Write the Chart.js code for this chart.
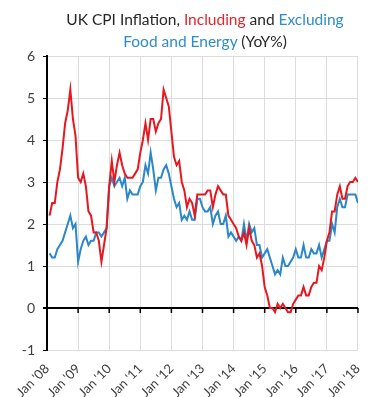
<!DOCTYPE html>
<html lang="en">
  <head>
    <meta charset="UTF-8" />
    <title>UK CPI Inflation</title>
    <script src="https://cdn.jsdelivr.net/npm/chart.js"></script>
    <style>
      body {
        margin: 0;
        background: #ffffff;
      }
      .wrap {
        position: relative;
        width: 380px;
        height: 397px;
      }
      .title {
        position: absolute;
        top: 8px;
        left: 30px;
        width: 350px;
        text-align: center;
        font-family: "Lato", sans-serif;
        font-size: 15.5px;
        line-height: 22px;
        color: #262626;
      }
      .red {
        color: #e3262b;
      }
      .blue {
        color: #2f8ccb;
      }
    </style>
  </head>
  <body>
    <div class="wrap">
      <canvas id="cpiChart" width="380" height="397"></canvas>
      <div class="title">
        UK CPI Inflation, <span class="red">Including</span> and <span class="blue">Excluding</span><br />
        <span class="blue">Food and Energy</span> (YoY%)
      </div>
    </div>
    <script>
      // monthly, Jan 2008 - Dec 2017
      const tickLabels = ["Jan '08", "Jan '09", "Jan '10", "Jan '11", "Jan '12", "Jan '13", "Jan '14", "Jan '15", "Jan '16", "Jan '17", "Jan '18"];

      const cpiAll = [
        2.2, 2.5, 2.5, 3.0, 3.3, 3.8, 4.4, 4.7, 5.2, 4.5, 4.1, 3.1,
        3.0, 3.2, 2.9, 2.3, 2.2, 1.8, 1.8, 1.6, 1.1, 1.5, 1.9, 2.9,
        3.5, 3.0, 3.4, 3.7, 3.4, 3.2, 3.1, 3.1, 3.1, 3.2, 3.3, 3.7,
        4.0, 4.4, 4.0, 4.5, 4.5, 4.2, 4.4, 4.5, 5.2, 5.0, 4.8, 4.2,
        3.6, 3.4, 3.5, 3.0, 2.8, 2.4, 2.6, 2.5, 2.2, 2.7, 2.7, 2.7,
        2.7, 2.8, 2.8, 2.4, 2.7, 2.9, 2.8, 2.7, 2.7, 2.2, 2.1, 2.0,
        1.9, 1.7, 1.6, 1.8, 1.5, 1.9, 1.6, 1.5, 1.2, 1.3, 1.0, 0.5,
        0.3, 0.0, 0.0, -0.1, 0.1, 0.0, 0.1, 0.0, -0.1, -0.1, 0.1, 0.2,
        0.3, 0.3, 0.5, 0.3, 0.3, 0.5, 0.6, 0.6, 1.0, 0.9, 1.2, 1.6,
        1.8, 2.3, 2.3, 2.7, 2.9, 2.6, 2.6, 2.9, 3.0, 3.0, 3.1, 3.0
      ];

      const cpiCore = [
        1.3, 1.2, 1.2, 1.4, 1.5, 1.6, 1.8, 2.0, 2.2, 1.9, 2.0, 1.1,
        1.4, 1.6, 1.7, 1.5, 1.6, 1.6, 1.8, 1.8, 1.7, 1.8, 1.9, 2.9,
        3.1, 2.9, 3.0, 3.1, 2.9, 3.1, 2.6, 2.8, 2.7, 2.7, 2.7, 2.9,
        3.0, 3.4, 3.2, 3.7, 3.3, 2.8, 3.1, 3.1, 3.3, 3.4, 3.2, 2.9,
        2.6, 2.4, 2.5, 2.1, 2.2, 2.1, 2.3, 2.1, 2.1, 2.6, 2.6, 2.4,
        2.3, 2.3, 2.4, 2.0, 2.2, 2.3, 2.0, 2.0, 2.2, 1.7, 1.8, 1.7,
        1.6, 1.7, 1.6, 2.0, 1.6, 2.0, 1.8, 1.9, 1.5, 1.5, 1.2, 1.3,
        1.4, 1.2, 1.0, 0.8, 0.9, 0.8, 1.2, 1.0, 1.0, 1.1, 1.2, 1.4,
        1.2, 1.2, 1.5, 1.2, 1.2, 1.4, 1.3, 1.3, 1.5, 1.2, 1.4, 1.6,
        1.6, 2.0, 1.8, 2.4, 2.6, 2.4, 2.4, 2.7, 2.7, 2.7, 2.7, 2.5
      ];

      // each value sits at the end of its month (months since Jan '08)
      function toPoints(values) {
        return values.map((v, i) => ({ x: i + 1, y: v }));
      }

      // little tick marks hanging under the zero line
      const zeroTicks = {
        id: "zeroTicks",
        beforeDatasetsDraw(chart) {
          const { ctx, scales } = chart;
          const y0 = scales.y.getPixelForValue(0);
          ctx.save();
          ctx.strokeStyle = "#000";
          ctx.lineWidth = 1.5;
          tickLabels.forEach((_, i) => {
            const x = scales.x.getPixelForValue(i * 12);
            ctx.beginPath();
            ctx.moveTo(x, y0);
            ctx.lineTo(x, y0 + 5);
            ctx.stroke();
          });
          ctx.restore();
        },
      };

      Chart.defaults.font.family = "Lato, sans-serif";
      Chart.defaults.color = "#404040";

      new Chart(document.getElementById("cpiChart"), {
        type: "line",
        data: {
          datasets: [
            {
              label: "Including food and energy",
              data: toPoints(cpiAll),
              borderColor: "#e8171d",
              borderWidth: 2,
              pointRadius: 0,
              tension: 0,
            },
            {
              label: "Excluding food and energy",
              data: toPoints(cpiCore),
              borderColor: "#2b87c8",
              borderWidth: 2,
              pointRadius: 0,
              tension: 0,
            },
          ],
        },
        options: {
          responsive: false,
          animation: false,
          layout: {
            padding: { top: 56, right: 7, left: 0, bottom: 0 },
          },
          plugins: {
            legend: { display: false },
            tooltip: { enabled: false },
          },
          scales: {
            x: {
              type: "linear",
              min: 0,
              max: 120,
              afterBuildTicks: (scale) => {
                scale.ticks = tickLabels.map((_, i) => ({ value: i * 12 }));
              },
              afterFit: (scale) => {
                scale.height = 47;
              },
              ticks: {
                autoSkip: false,
                maxRotation: 45,
                minRotation: 45,
                padding: 11,
                font: { size: 13 },
                callback: (v) => tickLabels[Math.round(v / 12)],
              },
              grid: {
                color: "#dcdcdc",
                drawTicks: false,
              },
              border: { color: "#dcdcdc" },
            },
            y: {
              min: -1,
              max: 6,
              afterFit: (scale) => {
                scale.width = 47;
              },
              ticks: {
                stepSize: 1,
                padding: 8,
                font: { size: 14 },
              },
              grid: {
                color: (c) => (c.tick && c.tick.value === 0 ? "#000" : "#dcdcdc"),
                lineWidth: (c) => (c.tick && c.tick.value === 0 ? 2 : 1),
                tickColor: "#000",
                tickLength: 4,
              },
              border: { color: "#000", width: 2 },
            },
          },
        },
        plugins: [zeroTicks],
      });
    </script>
  </body>
</html>
